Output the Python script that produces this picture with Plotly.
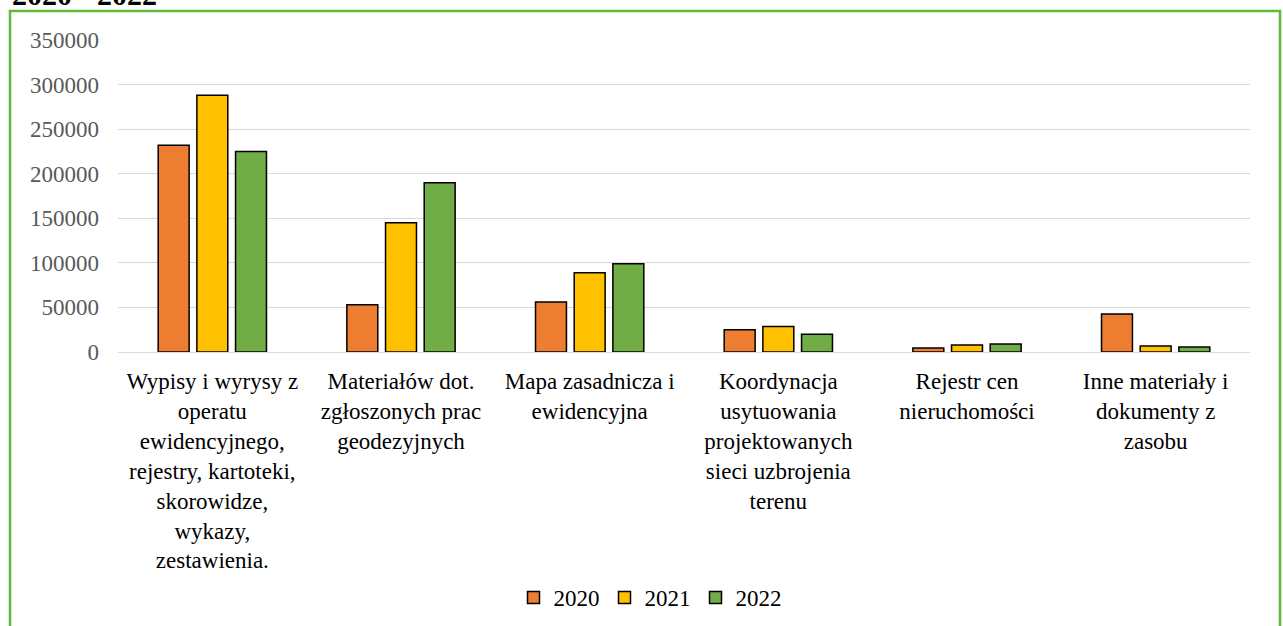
import plotly.graph_objects as go

categories = [
    "Wypisy i wyrysy z<br>operatu<br>ewidencyjnego,<br>rejestry, kartoteki,<br>skorowidze,<br>wykazy,<br>zestawienia.",
    "Materiałów dot.<br>zgłoszonych prac<br>geodezyjnych",
    "Mapa zasadnicza i<br>ewidencyjna",
    "Koordynacja<br>usytuowania<br>projektowanych<br>sieci uzbrojenia<br>terenu",
    "Rejestr cen<br>nieruchomości",
    "Inne materiały i<br>dokumenty z<br>zasobu",
]
years = ["2020", "2021", "2022"]
values_2020 = [232000, 53000, 56000, 25000, 4500, 42500]
values_2021 = [288000, 145000, 89000, 28500, 7800, 6700]
values_2022 = [225000, 190000, 99000, 20000, 9000, 5600]
colors = ["#ED7D31", "#FFC000", "#70AD47"]

W, H = 1283, 626
L, R, T, B = 118, 33, 40, 274
pw, ph = W - L - R, H - T - B

def px_x(px):
    return (px - L) / pw

def px_y(py):
    return (H - B - py) / ph

fig = go.Figure()
for name, vals, col in zip(years, [values_2020, values_2021, values_2022], colors):
    fig.add_trace(go.Bar(
        x=categories, y=vals, name=name,
        marker=dict(color=col, line=dict(color="#000000", width=1.5)),
    ))

font_family = "Liberation Serif, Times New Roman, serif"
fig.update_layout(
    width=W, height=H,
    margin=dict(l=L, r=R, t=T, b=B, autoexpand=False),
    paper_bgcolor="white", plot_bgcolor="white",
    barmode="group", bargap=0.385, bargroupgap=0.2,
    font=dict(family=font_family, size=23, color="#000000"),
    legend=dict(orientation="h", x=px_x(650), xanchor="center",
                y=px_y(576), yanchor="top",
                font=dict(size=23, color="#000000"),
                itemwidth=30, traceorder="normal"),
    showlegend=True,
)
fig.update_yaxes(range=[0, 350000], dtick=50000, tickformat="d",
                 showgrid=True, automargin=False,
                 gridcolor="#D9D9D9", gridwidth=1.3, zeroline=True,
                 zerolinecolor="#D9D9D9", zerolinewidth=1.3,
                 tickfont=dict(size=23, color="#595959", family=font_family),
                 ticklabelstandoff=18, showline=False)
fig.update_xaxes(showline=False, showgrid=False, ticks="", automargin=False,
                 tickfont=dict(size=23, color="#000000", family=font_family),
                 ticklabelstandoff=13, tickangle=0)

# Green frame around chart
fig.add_shape(type="rect", xref="paper", yref="paper",
              x0=px_x(10), x1=px_x(1280), y0=px_y(640), y1=px_y(11),
              line=dict(color="#5DBB3A", width=2.5), fillcolor="rgba(0,0,0,0)",
              layer="above")

# Partially visible title at top
fig.add_annotation(text="<b>2020 - 2022</b>", xref="paper", yref="paper",
                   x=px_x(10), xanchor="left", y=px_y(-6), yanchor="middle",
                   showarrow=False,
                   font=dict(family=font_family, size=30, color="#000000"))

fig.write_html("out.html",
               config={"displayModeBar": False},
               post_script="document.body.style.margin='0';document.body.style.overflow='hidden';")
